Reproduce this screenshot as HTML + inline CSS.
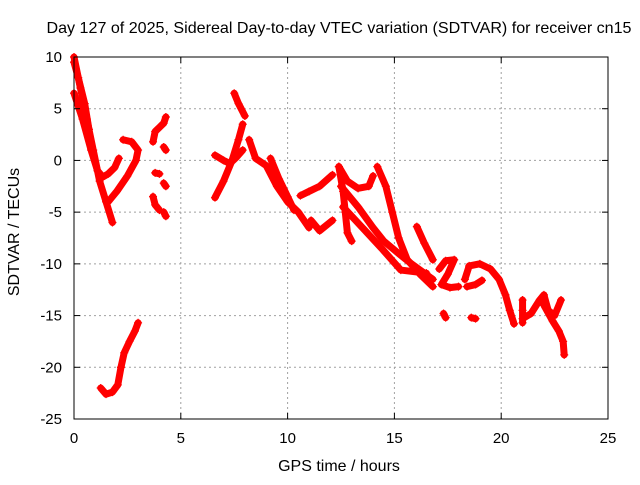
<!DOCTYPE html>
<html><head><meta charset="utf-8"><style>
body{margin:0;background:#fff}
svg text{font-family:"Liberation Sans",sans-serif;font-size:15px;fill:#000}
</style></head><body>
<svg id="chart" width="640" height="480" xmlns="http://www.w3.org/2000/svg">
<rect width="640" height="480" fill="#fff"/>
<g id="grid"></g>
<g id="series"></g>
<rect x="74" y="57" width="534" height="362" fill="none" stroke="#000" stroke-width="1"/>
<g id="ticks"></g>
<text x="339" y="33" text-anchor="middle" style="font-size:16px" textLength="585" lengthAdjust="spacingAndGlyphs">Day 127 of 2025, Sidereal Day-to-day VTEC variation (SDTVAR) for receiver cn15</text>
<text x="339" y="471" text-anchor="middle" style="font-size:16px">GPS time / hours</text>
<text x="19" y="232" text-anchor="middle" style="font-size:16px" transform="rotate(-90 19 232)">SDTVAR / TECUs</text>
</svg>
<script>
const xTicks=[0,5,10,15,20,25];
const yTicks=[10,5,0,-5,-10,-15,-20,-25];
const tracks=[
[[0,10],[0.3,7],[0.6,4],[0.9,1],[1.2,-2],[1.5,-4],[1.8,-6]],
[[0,6.5],[0.4,4],[0.8,1],[1.1,-1],[1.35,-1.6],[1.6,-1.3],[1.9,-0.7],[2.1,0.2]],
[[0,9.5],[0.2,8],[0.5,5.5],[0.7,3]],
[[1.6,-4],[2.0,-3],[2.5,-1.5],[2.9,0],[3.0,1],[2.7,1.8],[2.3,2.0]],
[[3.7,1.8],[3.8,2.8],[4.0,3.2],[4.2,3.6],[4.3,4.2]],
[[4.2,1.3],[4.3,1.0]],
[[3.8,-1.2],[4.0,-1.3]],
[[4.2,-2.2],[4.3,-2.5]],
[[3.7,-3.5],[3.8,-4.3],[4.0,-4.8]],
[[4.2,-5.0],[4.3,-5.4]],
[[1.25,-22],[1.5,-22.6],[1.8,-22.4],[2.05,-21.7],[2.2,-20],[2.35,-18.6],[2.6,-17.5],[2.85,-16.5],[3.0,-15.7]],
[[7.5,6.5],[7.7,5.5],[8.0,4.3]],
[[6.6,-3.6],[7.0,-2],[7.4,0],[7.7,2],[7.9,3.5]],
[[6.6,0.5],[7.0,0],[7.3,-0.3],[7.6,0.3],[7.9,1]],
[[8.2,2],[8.5,0.2],[9.0,-0.5],[9.5,-2.5],[10.0,-4],[10.5,-5],[11.0,-6.5]],
[[9.2,0.2],[9.6,-1.8],[10.0,-3.5],[10.3,-4.8]],
[[10.6,-3.4],[11.0,-3],[11.5,-2.5],[12.1,-1.4]],
[[11.1,-5.8],[11.5,-6.8],[12.1,-5.8]],
[[12.4,-0.6],[12.6,-3],[12.7,-5],[12.8,-7],[13.0,-7.8]],
[[12.4,-0.6],[12.8,-2],[13.3,-2.7],[13.8,-2.5],[14.0,-1.5]],
[[12.5,-2.5],[13.3,-4.5],[14.0,-6.5],[14.5,-7.8],[15.2,-9],[15.8,-10],[16.8,-11.5]],
[[14.2,-0.6],[14.6,-2.5],[14.9,-5],[15.2,-7.5],[15.6,-9.6],[16.2,-11],[16.8,-12.2]],
[[12.6,-4.5],[13.5,-6.5],[14.4,-8.5],[15.3,-10.6],[16.5,-10.9]],
[[16.05,-6.4],[16.4,-8],[16.8,-9.6]],
[[17.1,-10.5],[17.4,-9.7],[17.8,-9.6],[17.5,-11],[17.2,-12],[17.6,-12.3],[18.0,-12.2]],
[[18.3,-11.5],[18.5,-10.2],[19.0,-10],[19.5,-10.5],[19.9,-11.5],[20.2,-13],[20.4,-14.5],[20.6,-15.8]],
[[18.4,-12.2],[18.8,-12],[19.1,-11.6]],
[[17.3,-14.8],[17.4,-15.2]],
[[18.6,-15.2],[18.8,-15.3]],
[[21.0,-15.3],[21.4,-14.8],[21.8,-13.5],[22.0,-13],[22.2,-14.5],[22.5,-15],[22.8,-13.5]],
[[22.0,-14],[22.4,-15.5],[22.7,-16.5],[22.9,-17.5],[22.95,-18.8]],
[[21.0,-13.5],[21.0,-14.5],[21.0,-15.7]]
];
const L=74,R=608,T=57,B=419;
const xs=v=>L+(v-0)/25*(R-L);
const ys=v=>B-(v+25)/35*(B-T);
const NS="http://www.w3.org/2000/svg";
function mk(t,a){const e=document.createElementNS(NS,t);for(const k in a)e.setAttribute(k,a[k]);return e;}
const grid=document.getElementById('grid'),tk=document.getElementById('ticks'),ser=document.getElementById('series');
xTicks.forEach(v=>{
 if(v>0&&v<25){const g=mk('line',{x1:xs(v),x2:xs(v),y1:T,y2:B,stroke:'#a0a0a0','stroke-dasharray':'2,3'});
 
 grid.appendChild(g);}
 const t=mk('text',{x:xs(v),y:B+24,'text-anchor':'middle'});t.textContent=v;
 
 tk.appendChild(t);
 tk.appendChild(mk('line',{x1:xs(v),x2:xs(v),y1:B,y2:B-6,stroke:'#000'}));
 tk.appendChild(mk('line',{x1:xs(v),x2:xs(v),y1:T,y2:T+6,stroke:'#000'}));
});
yTicks.forEach(v=>{
 if(v>-25&&v<10){const g=mk('line',{x1:L,x2:R,y1:ys(v),y2:ys(v),stroke:'#a0a0a0','stroke-dasharray':'2,3'});
 
 grid.appendChild(g);}
 const t=mk('text',{x:L-12,y:ys(v)+5,'text-anchor':'end'});t.textContent=v;
 
 tk.appendChild(t);
 tk.appendChild(mk('line',{x1:L,x2:L+6,y1:ys(v),y2:ys(v),stroke:'#000'}));
 tk.appendChild(mk('line',{x1:R,x2:R-6,y1:ys(v),y2:ys(v),stroke:'#000'}));
});
tracks.forEach(tr=>{
 const pl=mk('polyline',{points:tr.map(p=>xs(p[0])+','+ys(p[1])).join(' '),fill:'none',stroke:'#f00','stroke-width':7,'stroke-linejoin':'round','stroke-linecap':'round'});
 
 
 ser.appendChild(pl);
 tr.forEach(p=>{
  const x=xs(p[0]),y=ys(p[1]);
  const m=mk('path',{d:`M${x-4},${y}H${x+4}M${x},${y-4}V${y+4}`,stroke:'#f00','stroke-width':1.2});
  
  
  ser.appendChild(m);
 });
});
</script>
</body></html>
